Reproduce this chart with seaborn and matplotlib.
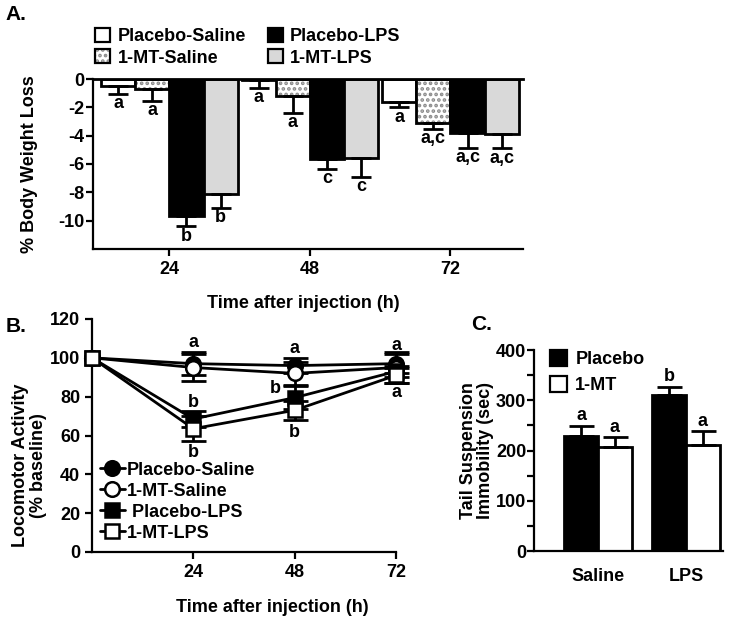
import matplotlib
matplotlib.use("Agg")
import matplotlib.pyplot as plt
import matplotlib.patches as mpatches
from matplotlib.lines import Line2D
from matplotlib.colors import to_rgba
from matplotlib.ticker import MultipleLocator
import seaborn as sns
import pandas as pd
import numpy as np

# ---- panel A: % body weight loss (bars, error below) ----
groups_a = ['Placebo-Saline', '1-MT-Saline', 'Placebo-LPS', '1-MT-LPS']
times_a = ['24', '48', '72']
loss_ps = [-0.5, -0.1, -1.6]
loss_ms = [-0.7, -1.2, -3.1]
loss_pl = [-9.7, -5.65, -3.8]
loss_ml = [-8.15, -5.6, -3.9]
err_ps = [0.55, 0.5, 0.4]
err_ms = [0.85, 1.2, 0.4]
err_pl = [0.7, 0.7, 1.05]
err_ml = [0.95, 1.3, 1.0]
letters_ps = ['a', 'a', 'a']
letters_ms = ['a', 'a', 'a,c']
letters_pl = ['b', 'c', 'a,c']
letters_ml = ['b', 'c', 'a,c']

# ---- panel B: locomotor activity ----
hours_b = [0, 24, 48, 72]
loco_ps = [100, 97, 96, 97]
loco_ms = [100, 95, 92, 95]
loco_pl = [100, 68.5, 79.5, 93]
loco_ml = [100, 63.5, 73, 91]
loco_err_ps = [0, 6, 4, 5]
loco_err_ms = [0, 7, 6, 8]
loco_err_pl = [0, 4, 6, 3]
loco_err_ml = [0, 6.5, 5, 4]

# ---- panel C: tail suspension ----
treat_c = ['Saline', 'LPS']
drugs_c = ['Placebo', '1-MT']
imm_placebo = [229, 310]
imm_1mt = [207, 211]
imm_err_placebo = [20, 17]
imm_err_1mt = [20, 28]
letters_placebo = ['a', 'b']
letters_1mt = ['a', 'a']

sns.set_style("ticks")
plt.rcParams['font.family'] = ['Liberation Sans', 'DejaVu Sans']
plt.rcParams['font.weight'] = 'bold'
plt.rcParams['axes.labelweight'] = 'bold'
plt.rcParams['font.size'] = 13
plt.rcParams['axes.linewidth'] = 1.6
plt.rcParams['hatch.linewidth'] = 1.8
plt.rcParams['xtick.major.width'] = 1.6
plt.rcParams['ytick.major.width'] = 1.6
plt.rcParams['ytick.minor.width'] = 1.6
plt.rcParams['xtick.color'] = 'black'
plt.rcParams['ytick.color'] = 'black'
plt.rcParams['axes.edgecolor'] = 'black'
plt.rcParams['text.color'] = 'black'
plt.rcParams['axes.labelcolor'] = 'black'

W, H = 729, 621
fig = plt.figure(figsize=(W / 100, H / 100), dpi=100)

def rect(l, t, r, b):
    return [l / W, 1 - b / H, (r - l) / W, (b - t) / H]

dot_grey = to_rgba('#8a8a8a')

# ================= A =================
axA = fig.add_axes(rect(93, 79, 523, 249))
rows = []
for g, vals in zip(groups_a, [loss_ps, loss_ms, loss_pl, loss_ml]):
    for t, v in zip(times_a, vals):
        rows.append({'time': t, 'group': g, 'loss': v})
df_a = pd.DataFrame(rows)
pal_a = {'Placebo-Saline': 'white', '1-MT-Saline': 'white',
         'Placebo-LPS': 'black', '1-MT-LPS': '#d9d9d9'}
sns.barplot(data=df_a, x='time', y='loss', hue='group', hue_order=groups_a,
            order=times_a, palette=pal_a, width=0.97, errorbar=None,
            edgecolor='black', linewidth=2, saturation=1, legend=False, ax=axA)

errs_a = [err_ps, err_ms, err_pl, err_ml]
lets_a = [letters_ps, letters_ms, letters_pl, letters_ml]
bars_a = list(axA.containers)
for gi, cont in enumerate(bars_a):
    xs = [b.get_x() + b.get_width() / 2 for b in cont]
    ys = [min(b.get_y(), b.get_y() + b.get_height()) for b in cont]
    if gi == 1:
        for b in cont:
            b.set_hatch('...')
            b._hatch_color = dot_grey
    axA.errorbar(xs, ys, yerr=[errs_a[gi], [0] * len(xs)], fmt='none',
                 ecolor='black', elinewidth=2, capsize=7, capthick=2, zorder=1)
    for x, y, e, s in zip(xs, ys, errs_a[gi], lets_a[gi]):
        axA.annotate(s, (x, y - e), xytext=(0, -1), textcoords='offset points',
                     ha='center', va='top', fontsize=13, fontweight='bold')

axA.set_ylim(-12, 0)
axA.set_xlim(-0.544, 2.516)
axA.set_yticks(np.arange(-10, 1, 2))
axA.set_yticklabels([str(v) for v in range(-10, 1, 2)])
axA.spines['right'].set_visible(False)
axA.spines['top'].set_linewidth(2)
axA.tick_params(axis='both', length=5, direction='out', labelsize=13)
axA.tick_params(axis='y', pad=1)
axA.set_ylabel('% Body Weight Loss', fontsize=13)
axA.yaxis.set_label_coords(-0.128, 0.5)
axA.set_xlabel('Time after injection (h)', fontsize=13)
axA.xaxis.set_label_coords(0.488, -0.27)

hatched = mpatches.Patch(facecolor='white', edgecolor='black', lw=1.6, hatch='...')
hatched._hatch_color = dot_grey
handles_a = [mpatches.Patch(facecolor='white', edgecolor='black', lw=1.6),
             hatched,
             mpatches.Patch(facecolor='black', edgecolor='black', lw=1.6),
             mpatches.Patch(facecolor='#d9d9d9', edgecolor='black', lw=1.6)]
fig.legend(handles_a, groups_a, ncol=2, loc='upper left',
           bbox_to_anchor=(95 / W, 1 - 28 / H), frameon=False, fontsize=13,
           handlelength=0.85, handleheight=0.85, handletextpad=0.4,
           columnspacing=1.2, labelspacing=0.2, borderpad=0, borderaxespad=0)

# ================= B =================
axB = fig.add_axes(rect(92, 319, 396, 552))
series_b = [('Placebo-Saline', loco_ps, loco_err_ps, 'o', 'black'),
            ('1-MT-Saline', loco_ms, loco_err_ms, 'o', 'white'),
            (' Placebo-LPS', loco_pl, loco_err_pl, 's', 'black'),
            ('1-MT-LPS', loco_ml, loco_err_ml, 's', 'white')]
for name, vals, errs, mk, fc in series_b:
    axB.errorbar(hours_b[1:], vals[1:], yerr=errs[1:], fmt='none', ecolor='black',
                 elinewidth=2, capsize=9, capthick=2, zorder=2, clip_on=False)
    sns.lineplot(x=hours_b, y=vals, color='black', lw=2, marker=mk, markersize=10.5,
                 markerfacecolor=fc, markeredgecolor='black', markeredgewidth=1.8,
                 ax=axB, zorder=3, clip_on=False, legend=False)

for x, y, s in [(24, 108, 'a'), (48, 105, 'a'), (72, 106.5, 'a'), (24, 77, 'b'),
                (24, 51, 'b'), (43.5, 84, 'b'), (48, 61.5, 'b'), (72, 82, 'a')]:
    axB.text(x, y, s, ha='center', va='center', fontsize=13, fontweight='bold')

axB.set_xlim(0, 72)
axB.set_ylim(0, 120)
axB.set_xticks([24, 48, 72])
axB.set_yticks(np.arange(0, 121, 20))
sns.despine(ax=axB)
axB.tick_params(axis='both', length=5, direction='out', labelsize=13)
axB.set_ylabel('Locomotor Activity\n(% baseline)', fontsize=13, linespacing=1.05)
axB.yaxis.set_label_coords(-0.148, 0.373)
axB.set_xlabel('Time after injection (h)', fontsize=13)
axB.xaxis.set_label_coords(0.592, -0.202)

handles_b = [Line2D([], [], color='black', lw=2, marker=mk, markersize=10.5,
                    markerfacecolor=fc, markeredgecolor='black', markeredgewidth=1.8)
             for _, _, _, mk, fc in series_b]
axB.legend(handles_b, [s[0] for s in series_b], loc='lower left',
           bbox_to_anchor=(0.025, 0.045), frameon=False, fontsize=13,
           handlelength=1.4, handletextpad=0.1, labelspacing=0.22,
           borderpad=0, borderaxespad=0)

# ================= C =================
axC = fig.add_axes(rect(534, 350, 723, 551))
df_c = pd.DataFrame({'treat': treat_c * 2,
                     'drug': ['Placebo'] * 2 + ['1-MT'] * 2,
                     'imm': imm_placebo + imm_1mt})
sns.barplot(data=df_c, x='treat', y='imm', hue='drug', hue_order=drugs_c,
            order=treat_c, palette={'Placebo': 'black', '1-MT': 'white'},
            width=0.77, errorbar=None, edgecolor='black', linewidth=2,
            saturation=1, legend=False, ax=axC)
errs_c = [imm_err_placebo, imm_err_1mt]
lets_c = [letters_placebo, letters_1mt]
bars_c = list(axC.containers)
for gi, cont in enumerate(bars_c):
    xs = [b.get_x() + b.get_width() / 2 for b in cont]
    ys = [b.get_height() for b in cont]
    axC.errorbar(xs, ys, yerr=[[0] * len(xs), errs_c[gi]], fmt='none',
                 ecolor='black', elinewidth=2, capsize=9, capthick=2, zorder=1)
    for x, y, e, s in zip(xs, ys, errs_c[gi], lets_c[gi]):
        axC.annotate(s, (x, y + e), xytext=(0, 1), textcoords='offset points',
                     ha='center', va='bottom', fontsize=13, fontweight='bold')

axC.set_ylim(0, 400)
axC.set_xlim(-0.727, 1.42)
axC.set_yticks(np.arange(0, 401, 100))
axC.yaxis.set_minor_locator(MultipleLocator(50))
sns.despine(ax=axC)
axC.tick_params(axis='y', which='both', length=5, direction='out', labelsize=13, pad=0.5)
axC.tick_params(axis='x', length=0, pad=12, labelsize=13)
axC.set_xlabel('')
axC.set_ylabel('Tail Suspension\nImmobility (sec)', fontsize=13, linespacing=1.0)
axC.yaxis.set_label_coords(-0.21, 0.5)
handles_c = [mpatches.Patch(facecolor='black', edgecolor='black', lw=1.6),
             mpatches.Patch(facecolor='white', edgecolor='black', lw=1.6)]
axC.legend(handles_c, drugs_c, loc='upper left', bbox_to_anchor=(0.085, 1.0),
           frameon=False, fontsize=13, handlelength=0.95, handleheight=0.95,
           handletextpad=0.45, labelspacing=0.45, borderpad=0, borderaxespad=0)

# panel letters
fig.text(16 / W, 1 - 15 / H, 'A.', fontsize=15, fontweight='bold', ha='center', va='center')
fig.text(16 / W, 1 - 327 / H, 'B.', fontsize=15, fontweight='bold', ha='center', va='center')
fig.text(482 / W, 1 - 325 / H, 'C.', fontsize=15, fontweight='bold', ha='center', va='center')

fig.savefig('out.png', dpi=100)
